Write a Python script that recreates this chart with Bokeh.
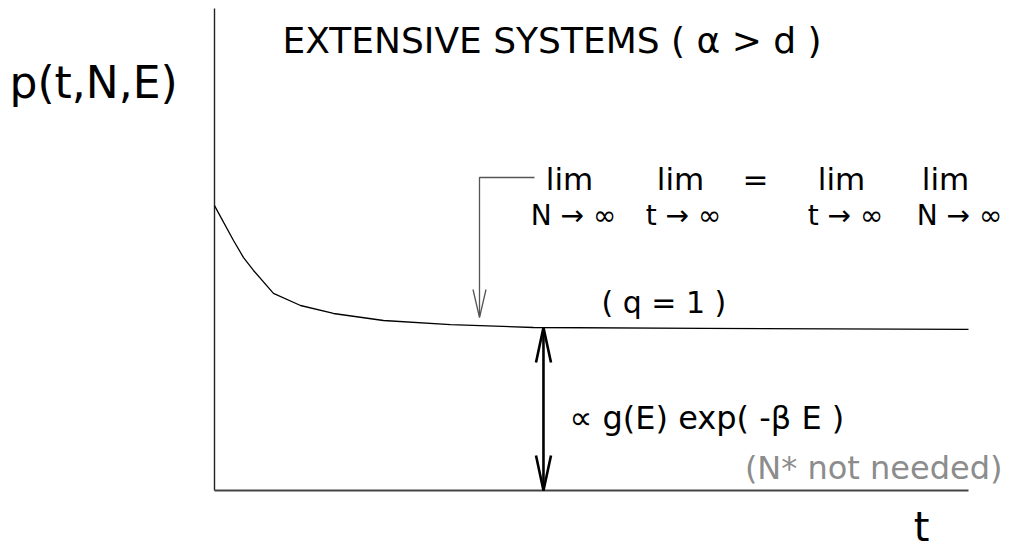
from bokeh.plotting import figure
from bokeh.models import Range1d
from bokeh.core.properties import value
from bokeh.embed import file_html
from bokeh.resources import INLINE

# ---- data ----
t_curve = [0.0, 0.252, 0.385, 0.517, 0.782, 1.141, 1.578, 2.241, 3.130, 4.231, 6.5, 10.0]
p_curve = [1.748, 1.534, 1.429, 1.350, 1.209, 1.135, 1.086, 1.043, 1.018, 1.0, 0.995, 0.988]
t_max = 10.0
p_plateau = 1.0          # q = 1 level
t_mark = 4.363           # position of the double arrow

W, H = 1010, 551
# page-pixel -> data helpers (layout only)
X0, SX = 214.0, 75.4
Y0, SY = 490.0, 163.0
def T(px):
    return (px - X0) / SX
def P(py):
    return (Y0 - py) / SY

p = figure(width=W, height=H, output_backend="svg", toolbar_location=None,
           x_range=Range1d(T(0), T(W)), y_range=Range1d(P(H), P(0)),
           min_border=0, outline_line_color=None)
p.xaxis.visible = False
p.yaxis.visible = False
p.grid.visible = False
p.background_fill_color = "white"
p.border_fill_color = "white"

FONT = value("DejaVu Sans")

# axes
p.line([0, 0], [0, P(8)], line_color="#222222", line_width=1.4)
p.line([0, t_max], [0, 0], line_color="#444444", line_width=2.2)

# curve
p.line(t_curve, p_curve, line_color="black", line_width=1.3)

# grey pointer arrow
tp = T(479)
p.line([T(534), tp, tp], [P(177), P(177), P(316)], line_color="#555555", line_width=1.3)
p.multi_line([[T(472.5), tp, T(485.5)]], [[P(289), P(317), P(289)]],
             line_color="#555555", line_width=1.3)

# double arrow
p.line([t_mark, t_mark], [p_plateau, 0], line_color="black", line_width=2.6)
p.multi_line([[T(535.5), t_mark, T(550.5)], [T(535.5), t_mark, T(550.5)]],
             [[P(362), p_plateau, P(362)], [P(455), 0, P(455)]],
             line_color="black", line_width=2.6)

def txt(x, y, s, size, align="left", color="black"):
    p.text(x=[x], y=[y], text=[s], text_font=FONT, text_font_size=size,
           text_align=align, text_baseline="middle", text_color=color)

txt(T(282), P(40), "EXTENSIVE SYSTEMS ( \u03b1 > d )", "36px")
txt(T(9), P(82), "p(t,N,E)", "44px")

# limits
lim_y = P(178)
sub_y = P(215)
txt(T(569), lim_y, "lim", "31px", align="center")
txt(T(680), lim_y, "lim", "31px", align="center")
txt(T(755), lim_y, "=", "31px", align="center")
txt(T(841), lim_y, "lim", "31px", align="center")
txt(T(945), lim_y, "lim", "31px", align="center")
txt(T(573), sub_y, "N \u2192 \u221e", "28px", align="center")
txt(T(683), sub_y, "t \u2192 \u221e", "28px", align="center")
txt(T(845), sub_y, "t \u2192 \u221e", "28px", align="center")
txt(T(959), sub_y, "N \u2192 \u221e", "28px", align="center")

txt(T(601), P(302), "( q = 1 )", "30px")
txt(T(569), P(417), "\u221d  g(E) exp( -\u03b2 E )", "32px")
txt(T(1002), P(467), "(N* not needed)", "32px", align="right", color="#8c8c8c")
txt(T(921), P(526), "t", "40px", align="center")

open("out.html", "w").write(file_html(p, INLINE))
